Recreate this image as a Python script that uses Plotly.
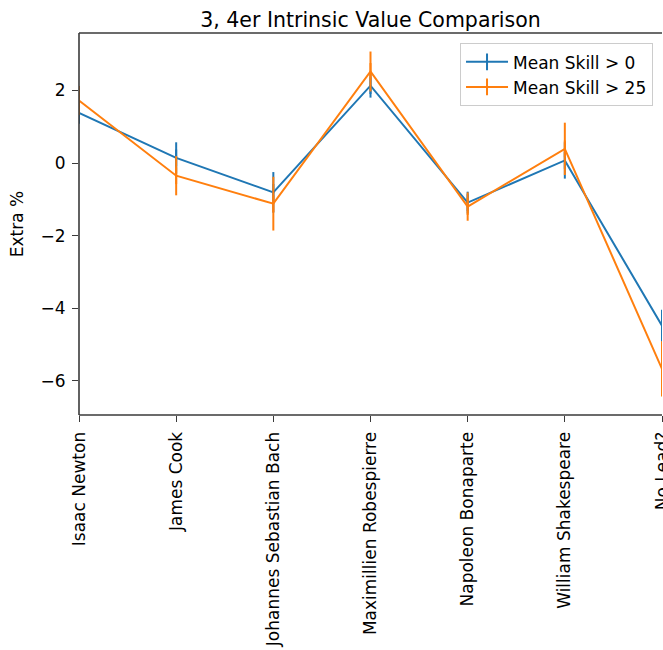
import plotly.graph_objects as go

categories = ["Isaac Newton", "James Cook", "Johannes Sebastian Bach",
              "Maximillien Robespierre", "Napoleon Bonaparte",
              "William Shakespeare", "No Lead?"]
skill0_mean = [1.38, 0.14, -0.81, 2.13, -1.09, 0.07, -4.48]
skill0_err = [0.30, 0.43, 0.56, 0.33, 0.30, 0.50, 0.44]
skill25_mean = [1.72, -0.35, -1.12, 2.52, -1.20, 0.39, -5.67]
skill25_err = [0.40, 0.54, 0.74, 0.55, 0.39, 0.72, 0.76]
series_names = ["Mean Skill > 0", "Mean Skill > 25"]
colors = ["#1f77b4", "#ff7f0e"]

x_idx = list(range(len(categories)))

fig = go.Figure()
for name, m, e, c in zip(series_names, [skill0_mean, skill25_mean],
                         [skill0_err, skill25_err], colors):
    fig.add_trace(go.Scatter(
        x=x_idx, y=m, mode="lines+markers", name=name,
        line=dict(color=c, width=2),
        marker=dict(symbol="line-ns", size=12, color=c,
                    line=dict(color=c, width=2)),
        error_y=dict(type="data", array=e, visible=True, color=c,
                     thickness=2, width=0),
    ))

font_family = "DejaVu Sans"
spine = "#3a3a3a"
fig.update_layout(
    width=663, height=650,
    margin=dict(l=79, r=1, t=33, b=235),
    paper_bgcolor="white", plot_bgcolor="white",
    font=dict(family=font_family, size=17, color="black"),
    title=dict(text="3, 4er Intrinsic Value Comparison", x=0.5, xanchor="center",
               xref="paper", y=1 - 20 / 650, yanchor="middle",
               font=dict(size=20.5, color="black")),
    legend=dict(x=0.9846, y=0.973, xanchor="right", yanchor="top",
                bgcolor="rgba(255,255,255,0.8)", bordercolor="#cccccc",
                borderwidth=1, font=dict(size=17), itemwidth=42),
    showlegend=True,
    shapes=[
        dict(type="line", xref="paper", yref="paper", x0=0, x1=0, y0=0, y1=1,
             line=dict(color=spine, width=1.6), layer="above"),
        dict(type="line", xref="paper", yref="paper", x0=0, x1=1, y0=0, y1=0,
             line=dict(color=spine, width=1.6), layer="above"),
        dict(type="line", xref="paper", yref="paper", x0=0, x1=1, y0=1, y1=1,
             line=dict(color=spine, width=1.6), layer="above"),
    ],
)
fig.update_xaxes(
    range=[0, len(categories) - 1], tickmode="array", tickvals=x_idx,
    ticktext=categories, tickangle=-90, showgrid=False, zeroline=False,
    showline=False, ticks="outside", ticklen=6, tickwidth=1.2, tickcolor=spine,
    ticklabelstandoff=3, ticklabeloverflow="allow", automargin=False,
)
fig.update_yaxes(
    range=[-6.94, 3.58], tickvals=[-6, -4, -2, 0, 2], showgrid=False,
    zeroline=False, showline=False, ticks="outside", ticklen=6, tickwidth=1.2,
    tickcolor=spine, ticklabelstandoff=3, automargin=False,
    title=dict(text="Extra %", standoff=12, font=dict(size=17)),
)

fig.write_html(
    "out.html",
    config={"displayModeBar": False},
    post_script="document.body.style.margin='0';"
                "document.documentElement.style.overflow='hidden';",
)
